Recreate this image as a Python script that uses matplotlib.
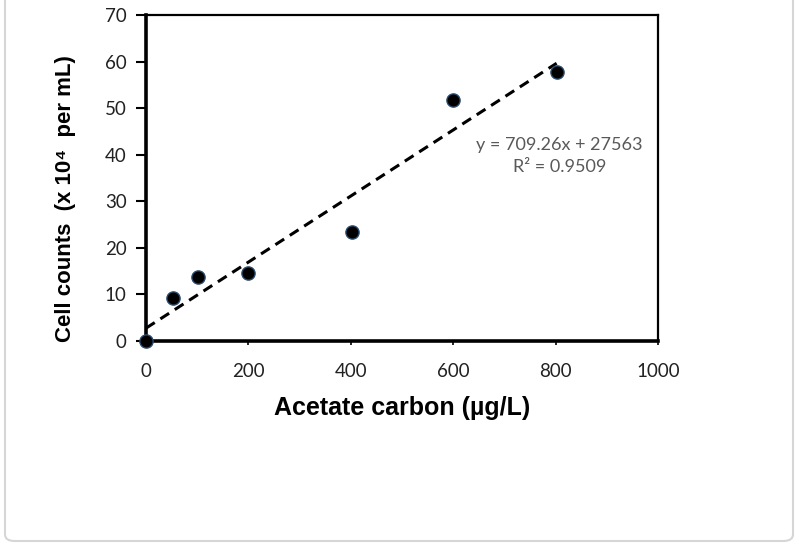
import matplotlib
matplotlib.use('Agg')
import matplotlib.pyplot as plt
import numpy as np
from matplotlib.patches import FancyBboxPatch

# data
acetate = [0, 52, 101, 200, 403, 600, 802]
cells = [0, 9.2, 13.7, 14.5, 23.5, 51.8, 57.7]

# excel trendline label (cells per L, so /1e4 for the plot units)
slope = 709.26
intercept = 27563
r2 = 0.9509
scale = 1e4

x_ticks = [0, 200, 400, 600, 800, 1000]
y_ticks = [0, 10, 20, 30, 40, 50, 60, 70]

fig = plt.figure(figsize=(8, 5.48), dpi=100)

# light frame around the whole picture
frame = FancyBboxPatch((5 / 800, 7 / 548), 788 / 800, 560 / 548,
                       boxstyle='round,pad=0,rounding_size=0.012',
                       transform=fig.transFigure, facecolor='white',
                       edgecolor='#d6d6d6', lw=1.5, zorder=-5)
fig.add_artist(frame)

ax = fig.add_axes([146 / 800, 1 - 341 / 548, 512 / 800, 326 / 548])
ax.set_zorder(2)
ax.set_facecolor('white')

xs = np.array([0, max(acetate)])
ax.plot(xs, (slope * xs + intercept) / scale, ls=(0, (3.4, 2.2)), color='black',
        lw=2.2, zorder=2)
ax.plot(acetate, cells, 'o', color='black', markersize=9.5,
        markeredgecolor='#2b4a6b', markeredgewidth=1.0, zorder=3, clip_on=False)

ax.set_xlim(0, 1000)
ax.set_ylim(0, 70)
ax.set_xticks(x_ticks)
ax.set_yticks(y_ticks)

for lab in ax.get_xticklabels() + ax.get_yticklabels():
    lab.set_family('Lato')
    lab.set_fontsize(13.5)
    lab.set_color('#222222')
ax.tick_params(axis='y', direction='out', length=7, width=1.5, pad=7)
ax.tick_params(axis='x', direction='out', length=3, width=1.2, pad=13)

ax.spines['left'].set_linewidth(2.6)
ax.spines['bottom'].set_linewidth(2.6)
ax.spines['top'].set_linewidth(1.6)
ax.spines['right'].set_linewidth(1.6)
for s in ax.spines.values():
    s.set_color('black')

ax.set_xlabel('Acetate carbon (\u00b5g/L)', fontsize=18, fontweight='bold',
              family=['Liberation Sans', 'DejaVu Sans'], labelpad=11)
ax.set_ylabel('Cell counts  (x 10\u2074  per mL)', fontsize=16, fontweight='bold',
              family=['Liberation Sans', 'DejaVu Sans'])
ax.yaxis.set_label_coords(-0.136, 0.436)

ax.text(808, 42, f'y = {slope}x + {intercept}', ha='center', va='center',
        fontsize=13, color='#595959', family='Lato')
ax.text(808, 37.3, f'R\u00b2 = {r2}', ha='center', va='center',
        fontsize=13, color='#595959', family='Lato')

fig.savefig('out.png', dpi=100, facecolor='white')
